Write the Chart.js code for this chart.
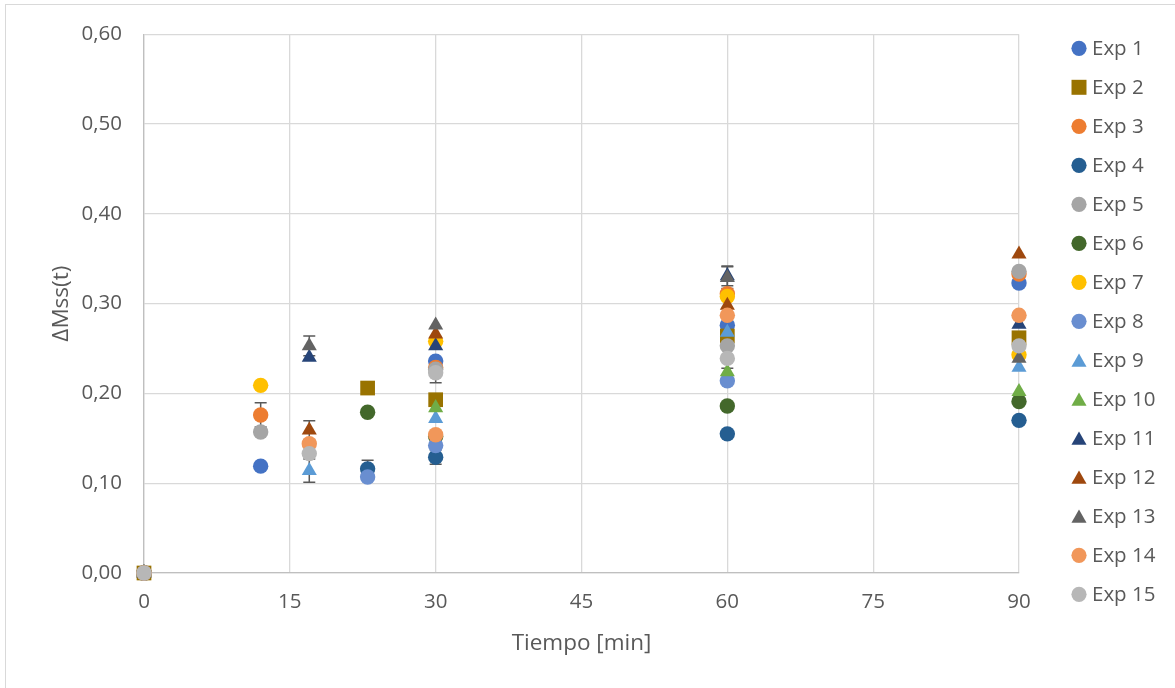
<!DOCTYPE html>
<html>
<head>
<meta charset="utf-8">
<script src="https://cdn.jsdelivr.net/npm/chart.js@4/dist/chart.umd.min.js"></script>
<style>
  html, body { margin: 0; padding: 0; background: #ffffff; }
  #wrap { width: 1175px; height: 688px; }
</style>
</head>
<body>
<div id="wrap"><canvas id="c" width="1175" height="688"></canvas></div>
<script>
// Mass change ΔMss(t) of each experiment against time in minutes
const seriesNames = ['Exp 1','Exp 2','Exp 3','Exp 4','Exp 5','Exp 6','Exp 7','Exp 8',
                     'Exp 9','Exp 10','Exp 11','Exp 12','Exp 13','Exp 14','Exp 15'];

const exp1Time  = [0, 12, 30, 60, 90];  const exp1Val  = [0, 0.119, 0.236, 0.276, 0.323];
const exp2Time  = [0, 23, 30, 60, 90];  const exp2Val  = [0, 0.206, 0.193, 0.264, 0.262];
const exp3Time  = [0, 12, 30, 60, 90];  const exp3Val  = [0, 0.176, 0.229, 0.311, 0.333];
const exp4Time  = [0, 23, 30, 60, 90];  const exp4Val  = [0, 0.116, 0.129, 0.155, 0.170];
const exp5Time  = [0, 12, 30, 60, 90];  const exp5Val  = [0, 0.157, 0.227, 0.253, 0.336];
const exp6Time  = [0, 23, 30, 60, 90];  const exp6Val  = [0, 0.179, 0.152, 0.186, 0.191];
const exp7Time  = [0, 12, 30, 60, 90];  const exp7Val  = [0, 0.209, 0.258, 0.308, 0.243];
const exp8Time  = [0, 23, 30, 60];      const exp8Val  = [0, 0.107, 0.142, 0.214];
const exp9Time  = [0, 17, 30, 60, 90];  const exp9Val  = [0, 0.114, 0.172, 0.268, 0.229];
const exp10Time = [0, 30, 60, 90];      const exp10Val = [0, 0.184, 0.224, 0.202];
const exp11Time = [0, 17, 30, 60, 90];  const exp11Val = [0, 0.240, 0.253, 0.331, 0.277];
const exp12Time = [0, 17, 30, 60, 90];  const exp12Val = [0, 0.159, 0.266, 0.298, 0.355];
const exp13Time = [0, 17, 30, 60, 90];  const exp13Val = [0, 0.253, 0.276, 0.329, 0.239];
const exp14Time = [0, 17, 30, 60, 90];  const exp14Val = [0, 0.144, 0.154, 0.287, 0.287];
const exp15Time = [0, 17, 30, 60, 90];  const exp15Val = [0, 0.133, 0.223, 0.239, 0.253];

// symmetric error (± ΔMss) for each point; 0 = no bar
const exp1Err  = [0, 0, 0, 0, 0];
const exp2Err  = [0, 0, 0, 0, 0];
const exp3Err  = [0, 0.0135, 0, 0, 0];
const exp4Err  = [0, 0.0095, 0.008, 0, 0];
const exp5Err  = [0, 0, 0, 0, 0];
const exp6Err  = [0, 0, 0, 0, 0];
const exp7Err  = [0, 0, 0, 0, 0];
const exp8Err  = [0, 0, 0, 0];
const exp9Err  = [0, 0.013, 0, 0, 0];
const exp10Err = [0, 0, 0, 0];
const exp11Err = [0, 0, 0, 0.011, 0];
const exp12Err = [0, 0.0105, 0, 0, 0];
const exp13Err = [0, 0.011, 0, 0.012, 0];
const exp14Err = [0, 0, 0, 0, 0];
const exp15Err = [0, 0, 0.011, 0.011, 0];

const xTicks = [0, 15, 30, 45, 60, 75, 90];
const yTicks = [0, 0.1, 0.2, 0.3, 0.4, 0.5, 0.6];

const times  = [exp1Time, exp2Time, exp3Time, exp4Time, exp5Time, exp6Time, exp7Time, exp8Time,
                exp9Time, exp10Time, exp11Time, exp12Time, exp13Time, exp14Time, exp15Time];
const values = [exp1Val, exp2Val, exp3Val, exp4Val, exp5Val, exp6Val, exp7Val, exp8Val,
                exp9Val, exp10Val, exp11Val, exp12Val, exp13Val, exp14Val, exp15Val];
const errors = [exp1Err, exp2Err, exp3Err, exp4Err, exp5Err, exp6Err, exp7Err, exp8Err,
                exp9Err, exp10Err, exp11Err, exp12Err, exp13Err, exp14Err, exp15Err];

const colors = ['#4472C4','#997300','#ED7D31','#255E91','#A5A5A5','#43682B','#FFC000','#698ED0',
                '#5B9BD5','#70AD47','#264478','#9E480E','#636363','#F1975A','#B7B7B7'];
const styles = ['circle','rect','circle','circle','circle','circle','circle','circle',
                'triangle','triangle','triangle','triangle','triangle','circle','circle'];

const FONT = '"Open Sans", "Noto Sans", sans-serif';
const TEXT = '#595959';

function markerRadius(style) {
  if (style === 'rect') return 10.4;
  if (style === 'triangle') return 8.7;
  return 7.7;
}

const datasets = seriesNames.map((name, i) => ({
  label: name,
  data: times[i].map((t, k) => ({ x: t, y: values[i][k] })),
  errors: errors[i],
  pointStyle: styles[i],
  pointRadius: markerRadius(styles[i]),
  pointHoverRadius: markerRadius(styles[i]),
  pointBackgroundColor: colors[i],
  pointBorderWidth: 0,
  backgroundColor: colors[i],
  borderColor: colors[i],
  showLine: false,
  clip: false,
  order: seriesNames.length - i   // later experiments are painted on top
}));

// outer frame of the chart
const framePlugin = {
  id: 'frame',
  beforeDraw(chart) {
    const ctx = chart.ctx;
    ctx.save();
    ctx.fillStyle = '#ffffff';
    ctx.fillRect(0, 0, chart.width, chart.height);
    ctx.strokeStyle = '#D9D9D9';
    ctx.lineWidth = 1;
    ctx.strokeRect(5.5, 4.5, chart.width + 10, chart.height + 10);
    ctx.restore();
  }
};

// vertical error bars with caps, painted underneath the markers
const errorBarPlugin = {
  id: 'errorBars',
  beforeDatasetsDraw(chart) {
    const ctx = chart.ctx;
    const xs = chart.scales.x, ys = chart.scales.y;
    ctx.save();
    ctx.strokeStyle = '#595959';
    ctx.lineWidth = 1.5;
    chart.data.datasets.forEach(ds => {
      ds.data.forEach((p, k) => {
        const e = ds.errors[k];
        if (!e) return;
        const px = xs.getPixelForValue(p.x);
        const yTop = ys.getPixelForValue(p.y + e);
        const yBot = ys.getPixelForValue(p.y - e);
        ctx.beginPath();
        ctx.moveTo(px, yTop); ctx.lineTo(px, yBot);
        ctx.moveTo(px - 6, yTop); ctx.lineTo(px + 6, yTop);
        ctx.moveTo(px - 6, yBot); ctx.lineTo(px + 6, yBot);
        ctx.stroke();
      });
    });
    ctx.restore();
  }
};

// legend column on the right
const legendPlugin = {
  id: 'sideLegend',
  afterDraw(chart) {
    const ctx = chart.ctx;
    const area = chart.chartArea;
    const x0 = area.right + 60;
    const y0 = area.top + 14;
    const step = 39;
    ctx.save();
    ctx.font = '20.5px ' + FONT;
    ctx.textBaseline = 'middle';
    ctx.textAlign = 'left';
    chart.data.datasets.forEach((ds, i) => {
      const y = y0 + i * step;
      ctx.fillStyle = colors[i];
      const st = styles[i];
      const r = st === 'rect' ? 10.6 : (st === 'triangle' ? 8.7 : 7.6);
      const yy = st === 'triangle' ? y + 2 : y;
      Chart.helpers.drawPoint(ctx, { pointStyle: st, radius: r, rotation: 0, borderWidth: 0 }, x0, yy);
      ctx.fillStyle = TEXT;
      ctx.fillText(ds.label, x0 + 13, y + 1);
    });
    ctx.restore();
  }
};

new Chart(document.getElementById('c'), {
  type: 'scatter',
  data: { datasets },
  plugins: [framePlugin, errorBarPlugin, legendPlugin],
  options: {
    responsive: false,
    animation: false,
    events: [],
    layout: { padding: { top: 33, right: 156, bottom: 0, left: 0 } },
    plugins: { legend: { display: false }, tooltip: { enabled: false } },
    scales: {
      x: {
        type: 'linear',
        min: 0, max: 90,
        afterBuildTicks(scale) { scale.ticks = xTicks.map(v => ({ value: v })); },
        afterFit(scale) { scale.height = 115; },
        grid: { color: '#D9D9D9', lineWidth: 1.3, drawTicks: false },
        border: { color: '#BFBFBF', width: 1.3 },
        ticks: {
          padding: 17,
          color: TEXT,
          font: { family: FONT, size: 20.5 },
          maxRotation: 0,
          callback: v => String(v)
        },
        title: {
          display: true,
          text: 'Tiempo [min]',
          color: TEXT,
          font: { family: FONT, size: 22.5 },
          padding: { top: 0, bottom: 31 }
        }
      },
      y: {
        type: 'linear',
        min: 0, max: 0.6,
        afterBuildTicks(scale) { scale.ticks = yTicks.map(v => ({ value: v })); },
        afterFit(scale) { scale.width = 144; },
        grid: { color: '#D9D9D9', lineWidth: 1.3, drawTicks: false },
        border: { color: '#BFBFBF', width: 1.3 },
        ticks: {
          padding: 22,
          color: TEXT,
          font: { family: FONT, size: 20.5 },
          callback: v => v.toFixed(2).replace('.', ',')
        },
        title: {
          display: true,
          text: 'ΔMss(t)',
          color: TEXT,
          font: { family: FONT, size: 22.5 },
          padding: { top: 48, bottom: 0 }
        }
      }
    }
  }
});
</script>
</body>
</html>
